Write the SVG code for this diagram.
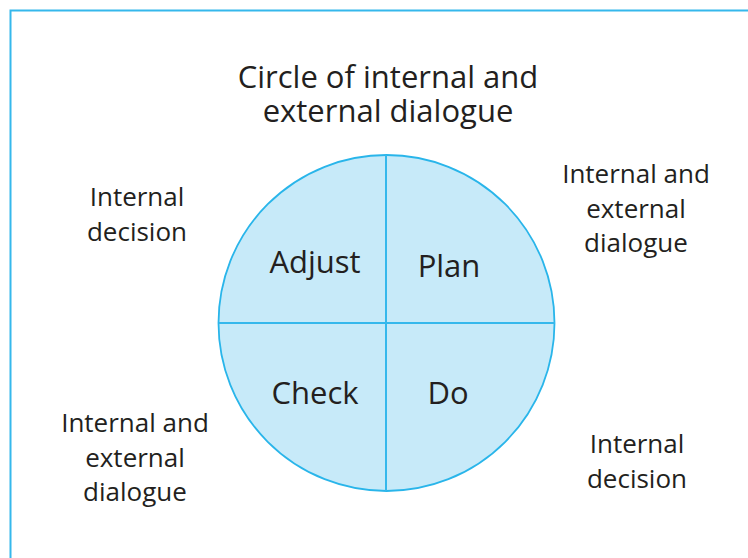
<svg xmlns="http://www.w3.org/2000/svg" width="748" height="558" viewBox="0 0 748 558">
<style>
text{font-family:"Open Sans","Noto Sans",sans-serif;fill:#231f20;text-anchor:middle}
.t{font-size:31px}
.q{font-size:31px}
.s{font-size:26px}
.ln{stroke:#35b8ec;stroke-width:2;fill:none}
</style>
<rect width="748" height="558" fill="#ffffff"/>
<path class="ln" d="M10.5 558 V10.5 H748" stroke="#4ec6f2" stroke-width="2.5"/>
<g id="title">
<text class="t" x="388" y="88">Circle of internal and</text>
<text class="t" x="388" y="122">external dialogue</text>
</g>
<g id="circle">
<circle cx="386.5" cy="323" r="168" fill="#c7eaf9" stroke="#29b5ea" stroke-width="1.8"/>
</g>
<g id="connectors">
<line class="ln" x1="386" y1="155" x2="386" y2="491"/>
<line class="ln" x1="219" y1="323" x2="555" y2="323"/>
</g>
<g id="adjust"><text class="q" x="315" y="273">Adjust</text></g>
<g id="plan"><text class="q" x="449" y="277">Plan</text></g>
<g id="check"><text class="q" x="315" y="404">Check</text></g>
<g id="do"><text class="q" x="448" y="404">Do</text></g>
<g id="label-tl">
<text class="s" x="137" y="206">Internal</text>
<text class="s" x="137" y="241">decision</text>
</g>
<g id="label-tr">
<text class="s" x="636" y="183">Internal and</text>
<text class="s" x="636" y="218">external</text>
<text class="s" x="636" y="252">dialogue</text>
</g>
<g id="label-bl">
<text class="s" x="135" y="432">Internal and</text>
<text class="s" x="135" y="467">external</text>
<text class="s" x="135" y="501">dialogue</text>
</g>
<g id="label-br">
<text class="s" x="637" y="453">Internal</text>
<text class="s" x="637" y="488">decision</text>
</g>
</svg>
